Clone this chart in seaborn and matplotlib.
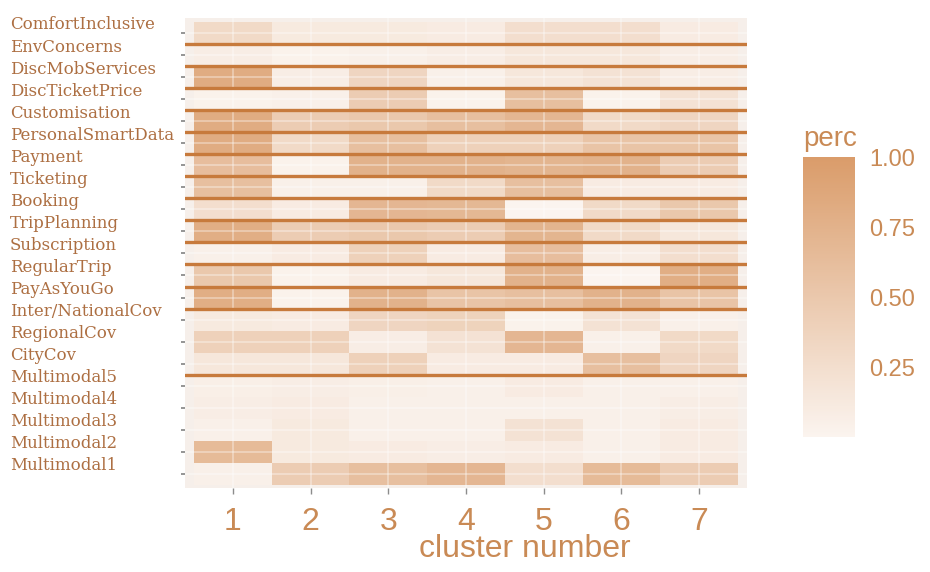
import numpy as np
import pandas as pd
import matplotlib
matplotlib.use('Agg')
import matplotlib.pyplot as plt
import matplotlib.transforms as mtransforms
from matplotlib.colors import LinearSegmentedColormap
import seaborn as sns

# features, top to bottom as in the chart
features = ['ComfortInclusive', 'EnvConcerns', 'DiscMobServices', 'DiscTicketPrice',
            'Customisation', 'PersonalSmartData', 'Payment', 'Ticketing', 'Booking',
            'TripPlanning', 'Subscription', 'RegularTrip', 'PayAsYouGo',
            'Inter/NationalCov', 'RegionalCov', 'CityCov', 'Multimodal5',
            'Multimodal4', 'Multimodal3', 'Multimodal2', 'Multimodal1']
clusters = [1, 2, 3, 4, 5, 6, 7]

# share per cluster (same order as features)
c1 = [0.30, 0.08, 0.82, 0.03, 0.82, 0.82, 0.62, 0.60, 0.25, 0.80, 0.05,
      0.50, 0.80, 0.12, 0.40, 0.15, 0.06, 0.08, 0.05, 0.65, 0.05]
c2 = [0.12, 0.03, 0.08, 0.05, 0.45, 0.30, 0.03, 0.05, 0.10, 0.45, 0.10,
      0.03, 0.03, 0.10, 0.40, 0.15, 0.08, 0.10, 0.12, 0.12, 0.45]
c3 = [0.12, 0.05, 0.35, 0.45, 0.50, 0.60, 0.75, 0.05, 0.70, 0.50, 0.40,
      0.10, 0.75, 0.35, 0.08, 0.40, 0.06, 0.05, 0.05, 0.10, 0.60]
c4 = [0.10, 0.08, 0.05, 0.03, 0.60, 0.40, 0.75, 0.30, 0.68, 0.45, 0.10,
      0.15, 0.55, 0.38, 0.20, 0.10, 0.05, 0.05, 0.05, 0.08, 0.70]
c5 = [0.25, 0.15, 0.15, 0.60, 0.70, 0.40, 0.72, 0.60, 0.00, 0.72, 0.62,
      0.75, 0.60, 0.03, 0.70, 0.10, 0.10, 0.05, 0.20, 0.10, 0.25]
c6 = [0.25, 0.15, 0.20, 0.03, 0.30, 0.55, 0.75, 0.10, 0.30, 0.30, 0.08,
      0.00, 0.75, 0.20, 0.05, 0.60, 0.05, 0.05, 0.05, 0.05, 0.65]
c7 = [0.10, 0.08, 0.08, 0.20, 0.35, 0.55, 0.45, 0.10, 0.50, 0.15, 0.25,
      0.80, 0.55, 0.05, 0.30, 0.35, 0.05, 0.08, 0.10, 0.10, 0.45]

# separator lines are drawn below these rows
sep_after = ['ComfortInclusive', 'EnvConcerns', 'DiscMobServices', 'DiscTicketPrice',
             'Customisation', 'PersonalSmartData', 'Payment', 'Ticketing', 'Booking',
             'TripPlanning', 'Subscription', 'RegularTrip', 'PayAsYouGo', 'CityCov']

cbar_ticks = [0.25, 0.50, 0.75, 1.00]
cbar_labels = ['0.25', '0.50', '0.75', '1.00']

df = pd.DataFrame({k: v for k, v in zip(clusters, [c1, c2, c3, c4, c5, c6, c7])},
                  index=features)

sns.set_style('white')
plt.rcParams['font.family'] = ['Liberation Sans', 'DejaVu Sans']

txt_col = '#C98A55'
lab_col = '#AD6F42'
line_col = '#C77A3C'
cmap = LinearSegmentedColormap.from_list('perc', ['#FBF4EF', '#DA9C6A'])

fig = plt.figure(figsize=(9.3, 5.72), dpi=100)
W, H = 930, 572
ax = fig.add_axes([185 / W, 1 - 488 / H, (747 - 185) / W, (488 - 18) / H])
cax = fig.add_axes([803 / W, 1 - 437 / H, 52 / W, (437 - 157) / H])

sns.heatmap(df, ax=ax, cbar_ax=cax, cmap=cmap, vmin=0, vmax=1,
            xticklabels=clusters, yticklabels=features, linewidths=0)

ax.set_facecolor('#F6EFEA')
ax.set_xlim(-0.116, len(clusters) + 0.116)
ax.set_ylim(len(features) + 0.14, -0.18)
ax.set_axisbelow(False)
ax.grid(True, color='white', alpha=0.4, linewidth=1.2)
for s in ax.spines.values():
    s.set_visible(False)

# separators between rows
for name in sep_after:
    ax.axhline(features.index(name) + 1, color=line_col, linewidth=2.4, zorder=3)

# ticks
ax.tick_params(axis='x', bottom=True, length=4.5, width=1, color='#8C8C8C',
               labelsize=23, labelcolor=txt_col, pad=9, labelrotation=0)
ax.tick_params(axis='y', left=True, length=3, width=1.3, color='#8C8C8C')
ax.set_yticklabels([])
ax.set_ylabel('')
ax.set_xlabel('cluster number', fontsize=23, color=txt_col)
ax.xaxis.set_label_coords(0.605, -0.098)

# row labels, left aligned at the figure edge, slightly raised
lab_tr = mtransforms.blended_transform_factory(fig.transFigure, ax.transData) + \
    mtransforms.ScaledTranslation(0, 8 / 100, fig.dpi_scale_trans)
for i, name in enumerate(features):
    ax.text(10 / W, i + 0.5, name, transform=lab_tr, ha='left', va='center',
            fontsize=12, family='DejaVu Serif', color=lab_col, clip_on=False)

# colourbar
cbar = ax.collections[0].colorbar
cbar.outline.set_visible(False)
cbar.set_ticks(cbar_ticks)
cbar.ax.set_yticklabels(cbar_labels)
cbar.ax.yaxis.set_ticks_position('both')
cbar.ax.tick_params(which='major', direction='in', length=8, width=1, color='white',
                    labelsize=17, labelcolor=txt_col, pad=10, labelleft=False,
                    labelright=True)
cbar.ax.minorticks_off()
cbar.ax.set_title('perc', loc='left', fontsize=20, color=txt_col, pad=8)

fig.savefig('out.png', dpi=100)
